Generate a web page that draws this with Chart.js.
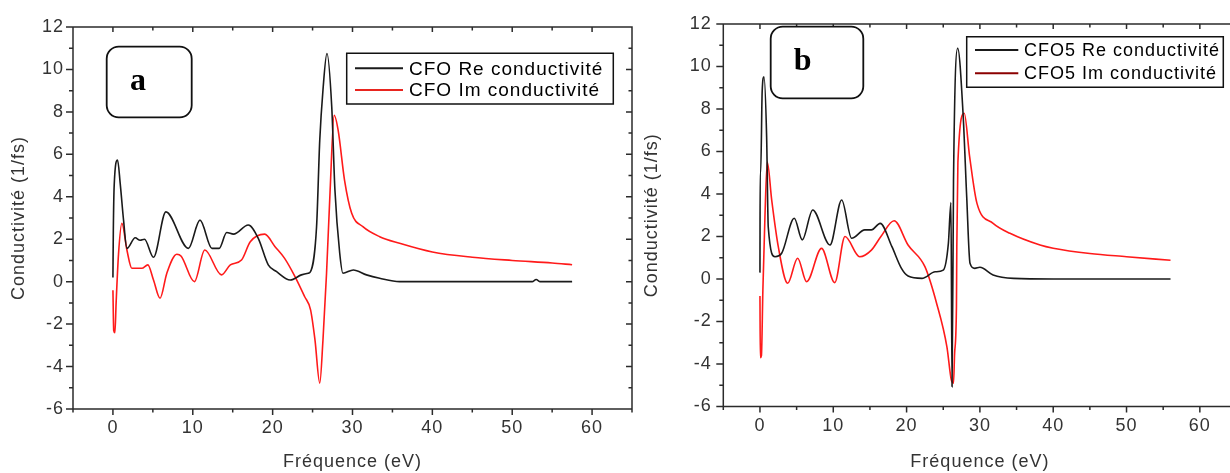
<!DOCTYPE html>
<html>
<head>
<meta charset="utf-8">
<script src="https://cdn.jsdelivr.net/npm/chart.js@4.4.1/dist/chart.umd.min.js"></script>
<style>
  html, body { margin:0; padding:0; background:#fff; overflow:hidden; width:1230px; height:473px; }
  #wrap { position:relative; width:1230px; height:473px; overflow:hidden; }
  canvas { position:absolute; top:0; }
  #ca { left:0; }
  #cb { left:640px; }
</style>
</head>
<body>
<div id="wrap">
  <canvas id="ca" width="640" height="473"></canvas>
  <canvas id="cb" width="600" height="473"></canvas>
</div>
<script>
// ---------- data ----------
const xTickLabels = [0, 10, 20, 30, 40, 50, 60];
const yTickLabels = [-6, -4, -2, 0, 2, 4, 6, 8, 10, 12];

// Panel a : CFO
const freqReA = [0, 0.05, 0.16, 0.58, 0.91, 1.33, 1.75, 2.79, 3.4, 3.95, 5.08, 6.63, 9.45, 10.9, 12.4, 13.3, 14.25, 15.1, 16.95, 18.2, 19.45, 20.5, 22.2, 23.6, 24.45, 24.7, 25.5, 25.9, 26.3, 26.8, 27.4, 27.8, 28.4, 28.8, 30.1, 31.75, 33.4, 35.9, 40, 45, 50, 52.5, 53, 53.5, 55, 57.5];
const reA     = [0.2, 2.4, 4.55, 5.73, 4.63, 2.9, 1.57, 2.07, 1.95, 2.0, 1.15, 3.29, 1.57, 2.9, 1.57, 1.57, 2.32, 2.24, 2.67, 2.04, 0.79, 0.47, 0.08, 0.32, 0.4, 0.45, 2.59, 6.67, 9.02, 10.75, 8.24, 4.32, 1.34, 0.4, 0.55, 0.32, 0.16, 0.0, 0.0, 0.0, 0.0, 0.0, 0.1, 0.0, 0.0, 0.0];
const freqImA = [0, 0.1, 0.25, 0.4, 0.7, 1.12, 1.75, 2.37, 3.62, 4.37, 5.08, 5.9, 6.75, 8.0, 8.55, 10.2, 11.5, 13.6, 14.7, 16.1, 17.2, 19.0, 20.3, 21.5, 22.8, 24.0, 24.75, 25.3, 25.9, 26.3, 26.75, 27.2, 27.7, 28.2, 29.0, 29.9, 31.3, 33.4, 35.9, 40, 45, 50, 55, 57.5];
const imA     = [-0.4, -2.3, -2.4, -1.0, 1.3, 2.75, 1.49, 0.63, 0.63, 0.79, 0.08, -0.78, 0.4, 1.29, 1.2, 0.0, 1.49, 0.32, 0.79, 1.02, 1.88, 2.24, 1.65, 1.1, 0.24, -0.7, -1.33, -2.74, -4.78, -2.76, 0.4, 4.32, 7.84, 7.14, 4.79, 3.22, 2.59, 2.12, 1.81, 1.4, 1.15, 1.0, 0.88, 0.8];

// Panel b : CFO5
const freqReB = [0, 0.03, 0.1, 0.3, 0.55, 0.91, 1.13, 2.05, 2.96, 4.68, 5.77, 7.19, 9.55, 11.15, 12.5, 14.3, 15.2, 16.4, 18.0, 19.3, 20.2, 22.1, 23.9, 25.0, 25.7, 26.05, 26.2, 26.4, 26.97, 27.7, 28.2, 28.65, 29.3, 30.0, 31.8, 34.6, 40, 45, 50, 56];
const reB     = [0.3, 5.0, 5.0, 8.8, 9.52, 6.7, 2.46, 1.05, 1.21, 2.86, 1.84, 3.25, 1.6, 3.72, 1.92, 2.31, 2.31, 2.62, 1.52, 0.5, 0.14, 0.03, 0.34, 0.42, 1.68, 3.6, -5.07, 4.6, 10.86, 7.8, 3.87, 0.74, 0.5, 0.55, 0.19, 0.03, 0, 0, 0, 0];
const freqImB = [0, 0.05, 0.2, 0.4, 0.68, 1.0, 1.6, 2.5, 3.78, 5.14, 6.37, 8.4, 10.2, 11.6, 13.6, 15.2, 16.5, 18.3, 20.2, 22.5, 24.1, 25.5, 26.1, 26.4, 26.55, 26.8, 26.85, 27.0, 27.86, 28.6, 29.6, 31.8, 34.1, 38.2, 40, 45, 50, 56];
const imB     = [-0.8, -3.7, -3.6, -0.5, 2.93, 5.5, 3.72, 1.52, -0.2, 0.98, -0.13, 1.44, -0.17, 2.0, 1.05, 1.36, 2.0, 2.74, 1.6, 0.58, -1.15, -3.19, -4.75, -4.9, -3.5, -1.3, 1.5, 5.5, 7.8, 5.76, 3.56, 2.62, 2.15, 1.6, 1.45, 1.2, 1.05, 0.88];

const zip = (xs, ys) => xs.map((x, i) => ({x: x, y: ys[i]}));

// ---------- styling ----------
const FONT = '"Liberation Sans", Arial, sans-serif';
const AXIS_COLOR = '#2b2b2b';
const TEXT_COLOR = '#333';
const SPACING = '1px';

const framePlugin = {
  id: 'frame',
  beforeDraw(chart) { chart.ctx.letterSpacing = SPACING; },
  beforeDatasetsDraw(chart, args, opts) {
    const {ctx, chartArea: {left, right, top, bottom}, scales: {x, y}} = chart;
    ctx.save();
    ctx.strokeStyle = AXIS_COLOR;
    ctx.lineWidth = 1.5;
    ctx.beginPath();
    ctx.moveTo(left, top); ctx.lineTo(left, bottom); ctx.lineTo(right, bottom);
    ctx.moveTo(left, top); ctx.lineTo(right, top);
    if (opts.rightBorder) { ctx.lineTo(right, bottom); }
    // x ticks every 5 (major every 10)
    for (let v = Math.ceil(x.min / 5) * 5; v <= x.max + 1e-9; v += 5) {
      const px = x.getPixelForValue(v);
      const major = v % 10 === 0;
      ctx.moveTo(px, bottom); ctx.lineTo(px, bottom + (major ? 6 : 3.5));
      ctx.moveTo(px, top); ctx.lineTo(px, top + (major ? 5 : 3.5));
    }
    // y ticks every 1 (major every 2)
    for (let v = Math.ceil(y.min); v <= y.max + 1e-9; v += 1) {
      const py = y.getPixelForValue(v);
      const major = v % 2 === 0;
      ctx.moveTo(left, py); ctx.lineTo(left - (major ? 7 : 4), py);
      if (opts.rightBorder) { ctx.moveTo(right, py); ctx.lineTo(right - (major ? 6 : 3.5), py); }
    }
    ctx.stroke();
    ctx.restore();
  },
  afterDraw(chart, args, opts) {
    const ctx = chart.ctx;
    ctx.save();
    ctx.letterSpacing = '0px';
    // panel letter box
    const b = opts.tagBox;
    ctx.fillStyle = '#fff';
    ctx.strokeStyle = '#111';
    ctx.lineWidth = 1.8;
    ctx.beginPath();
    ctx.roundRect(b.x, b.y, b.w, b.h, 12);
    ctx.fill(); ctx.stroke();
    ctx.fillStyle = '#000';
    ctx.font = 'bold 32px "Liberation Serif", "Times New Roman", serif';
    ctx.textAlign = 'center';
    ctx.textBaseline = 'alphabetic';
    ctx.fillText(opts.tag, b.tx, b.ty);
    // legend
    const L = opts.legend;
    ctx.fillStyle = '#fff';
    ctx.strokeStyle = '#111';
    ctx.lineWidth = 1.5;
    ctx.beginPath();
    ctx.rect(L.x, L.y, L.w, L.h);
    ctx.fill(); ctx.stroke();
    ctx.letterSpacing = SPACING;
    ctx.font = L.size + 'px ' + FONT;
    ctx.textAlign = 'left';
    ctx.textBaseline = 'middle';
    chart.data.datasets.forEach((ds, i) => {
      const yy = L.rows[i];
      ctx.strokeStyle = ds.legendColor || ds.borderColor;
      ctx.lineWidth = 2;
      ctx.beginPath();
      ctx.moveTo(L.lx0, yy); ctx.lineTo(L.lx1, yy);
      ctx.stroke();
      ctx.fillStyle = '#000';
      ctx.fillText(ds.label, L.tx, yy + 1);
    });
    ctx.restore();
  }
};

function makeChart(id, cfg) {
  return new Chart(document.getElementById(id), {
    type: 'line',
    data: {
      datasets: [
        { label: cfg.labels[0], data: cfg.re, borderColor: '#1a1a1a', borderWidth: 1.6 },
        { label: cfg.labels[1], data: cfg.im, borderColor: '#ff1a1a', legendColor: cfg.imLegendColor, borderWidth: 1.6 }
      ]
    },
    options: {
      responsive: false,
      animation: false,
      devicePixelRatio: 1,
      parsing: false,
      layout: { padding: { left: 0, right: cfg.padR, top: cfg.padT, bottom: 0 } },
      elements: {
        point: { radius: 0 },
        line: { cubicInterpolationMode: 'monotone', fill: false }
      },
      plugins: {
        legend: { display: false },
        tooltip: { enabled: false },
        frame: { rightBorder: cfg.rightBorder, tag: cfg.tag, tagBox: cfg.tagBox, legend: cfg.legend }
      },
      scales: {
        x: {
          type: 'linear', min: -5, max: 65,
          afterBuildTicks(s) { s.ticks = xTickLabels.map(v => ({value: v})); },
          ticks: { font: { family: FONT, size: 18 }, color: TEXT_COLOR, padding: cfg.xPad, maxRotation: 0, autoSkip: false },
          grid: { display: false, drawTicks: false },
          border: { display: false },
          title: { display: true, text: 'Fréquence (eV)', font: { family: FONT, size: 18 }, color: TEXT_COLOR, padding: { top: 0, bottom: 0 } },
          afterFit(s) { s.height = cfg.xH; }
        },
        y: {
          type: 'linear', min: -6, max: 12,
          afterBuildTicks(s) { s.ticks = yTickLabels.map(v => ({value: v})); },
          ticks: { font: { family: FONT, size: 18 }, color: TEXT_COLOR, padding: cfg.yPad, autoSkip: false },
          grid: { display: false, drawTicks: false },
          border: { display: false },
          title: { display: true, text: 'Conductivité (1/fs)', font: { family: FONT, size: 18 }, color: TEXT_COLOR, padding: { top: cfg.yTitlePad, bottom: 0 } },
          afterFit(s) { s.width = cfg.yW; }
        }
      }
    },
    plugins: [framePlugin]
  });
}

makeChart('ca', {
  labels: ['CFO Re conductivité', 'CFO Im conductivité'],
  re: zip(freqReA, reA), im: zip(freqImA, imA),
  imLegendColor: '#e8251f',
  padR: 8, padT: 27, xH: 64, yW: 73, xPad: 8, yPad: 9, yTitlePad: 8,
  rightBorder: true,
  tag: 'a',
  tagBox: { x: 106.7, y: 46.7, w: 85, h: 70.6, tx: 138, ty: 90 },
  legend: { x: 346.7, y: 53.3, w: 266.6, h: 50.7, lx0: 355, lx1: 403, tx: 409, rows: [68.3, 90], size: 19 }
});

makeChart('cb', {
  labels: ['CFO5 Re conductivité', 'CFO5 Im conductivité'],
  re: zip(freqReB, reB), im: zip(freqImB, imB),
  imLegendColor: '#8b0000',
  padR: 3.5, padT: 24, xH: 66.5, yW: 83.3, xPad: 9, yPad: 11.5, yTitlePad: 1,
  rightBorder: false,
  tag: 'b',
  tagBox: { x: 130.7, y: 26.7, w: 92.6, h: 71.6, tx: 162.7, ty: 70 },
  legend: { x: 326.7, y: 36.7, w: 256.6, h: 50.6, lx0: 335, lx1: 378.3, tx: 384, rows: [50, 73.3], size: 18 }
});
</script>
</body>
</html>
